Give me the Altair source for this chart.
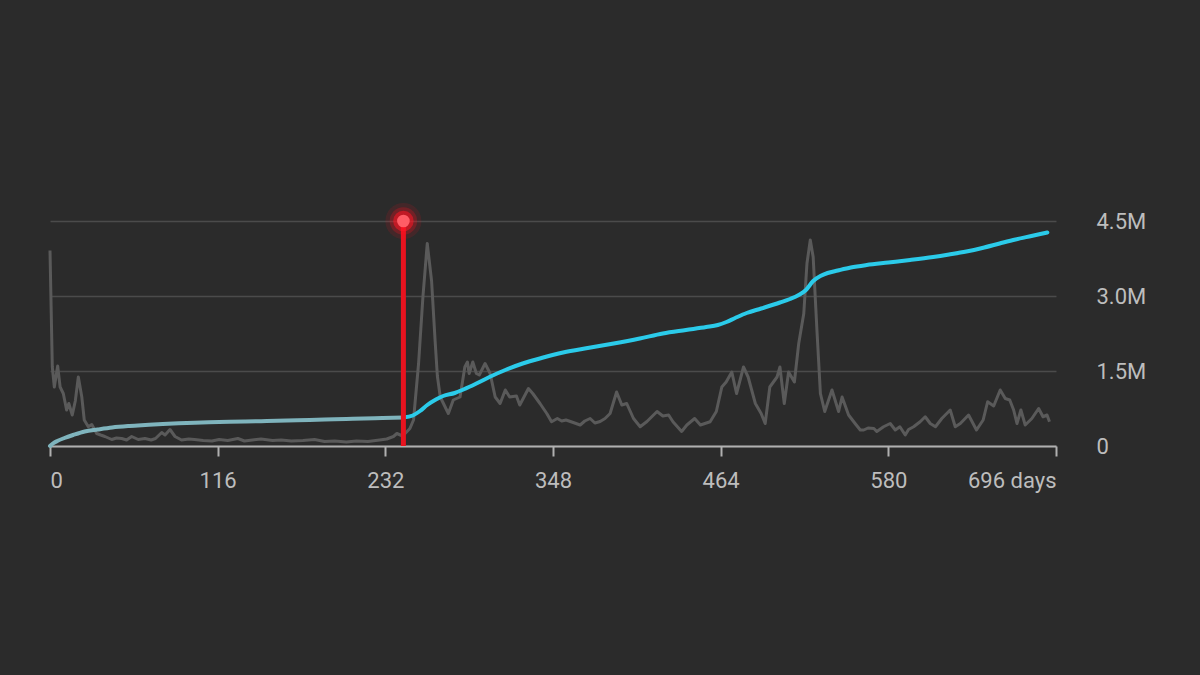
import altair as alt
import pandas as pd

# Cumulative total (millions) by day
cum_days = [0, 2, 5, 10, 16, 24, 33, 43, 55, 66, 78, 89, 105, 124, 135, 150, 171, 190, 205, 217, 230, 244.5,
            251, 256, 261, 267, 272, 280, 286, 295, 304, 315, 327, 340, 355, 372, 390, 408, 424, 440, 454, 462,
            468, 474, 482, 492, 505, 512, 518, 523, 528, 533, 538, 545, 554, 565, 580, 595, 611, 622, 634, 645,
            657, 668, 679, 690]
cum_values = [0, 0.05, 0.10, 0.16, 0.22, 0.29, 0.33, 0.37, 0.40, 0.42, 0.44, 0.455, 0.47, 0.485, 0.49, 0.50, 0.515,
              0.53, 0.54, 0.55, 0.56, 0.57,
              0.61, 0.70, 0.82, 0.93, 1.00, 1.06, 1.13, 1.25, 1.38, 1.52, 1.65, 1.76, 1.87, 1.96, 2.05, 2.15,
              2.25, 2.32, 2.38, 2.42, 2.48, 2.56, 2.66, 2.75, 2.87, 2.94, 3.02, 3.12, 3.30, 3.40, 3.46, 3.51,
              3.57, 3.62, 3.67, 3.72, 3.78, 3.83, 3.89, 3.96, 4.05, 4.13, 4.20, 4.27]
event_day = 244.5

# Daily activity (drawn on the same axis units, millions)
daily_days = [0, 1.6, 3, 5.3, 7, 9.2, 11.5, 13, 15.4, 17.5, 19.6, 22, 23.7, 26.5, 28.9, 32.3, 35, 38, 42.7, 46,
              49.6, 53, 56.5, 61, 65.7, 70, 73, 77.3, 79.6, 83, 86.5, 91, 96, 100, 106, 112, 117, 123, 130, 134.5,
              140, 146, 154, 160, 167, 175, 183, 190, 197, 205, 212, 220, 228, 233, 237.6, 240, 244, 249, 251.5,
              255, 258, 261, 264, 266.4, 268, 270, 275.6, 279, 283.7, 287, 288.8, 290, 292.5, 295, 297, 301,
              304.5, 308, 311.4, 315, 318, 322.7, 325, 331, 334, 339, 343.7, 347, 351, 354, 357, 362, 366.8,
              370, 373.7, 377, 380.6, 384, 387.5, 392, 395.6, 399, 403.7, 408.3, 413, 420, 424, 428, 431, 437,
              440.6, 446, 450, 456.7, 461, 464.8, 467.8, 471.7, 475, 479.8, 483, 488, 492, 494.8, 498, 503, 505,
              508, 511, 515, 518, 521.5, 523.7, 526, 528, 530.6, 533, 536, 541, 545.6, 548, 552.5, 557, 560.6,
              563, 566, 570, 572, 576.7, 581.3, 584.8, 588, 591.7, 594, 597.5, 602, 605.5, 609, 612.6, 617, 622.8,
              626.3, 629.8, 635.5, 641, 645.6, 648.7, 652.9, 657.4, 660.9, 664, 666.7, 669, 671.7, 674.7, 679.3,
              684, 687, 689.8, 691.5]
daily_values = [3.91, 1.58, 1.18, 1.60, 1.18, 1.05, 0.72, 0.85, 0.62, 0.90, 1.38, 0.98, 0.52, 0.385, 0.43, 0.25,
                0.22, 0.19, 0.13, 0.16, 0.15, 0.12, 0.19, 0.13, 0.15, 0.12, 0.15, 0.27, 0.22, 0.33, 0.19, 0.12,
                0.14, 0.13, 0.11, 0.10, 0.13, 0.11, 0.15, 0.10, 0.12, 0.14, 0.11, 0.12, 0.10, 0.11, 0.13, 0.09,
                0.10, 0.08, 0.10, 0.09, 0.12, 0.14, 0.19, 0.25, 0.20, 0.35, 0.52, 1.65, 2.98, 4.05, 3.30, 2.12,
                1.40, 0.98, 0.65, 0.92, 0.98, 1.58, 1.68, 1.45, 1.68, 1.45, 1.42, 1.65, 1.45, 0.98, 0.85, 1.12,
                0.98, 1.00, 0.82, 1.15, 1.05, 0.85, 0.65, 0.485, 0.55, 0.50, 0.52, 0.47, 0.42, 0.50, 0.55, 0.46,
                0.49, 0.55, 0.65, 1.08, 0.82, 0.85, 0.55, 0.385, 0.49, 0.69, 0.60, 0.62, 0.485, 0.29, 0.42, 0.55,
                0.42, 0.485, 0.69, 1.18, 1.28, 1.48, 1.05, 1.58, 1.38, 0.85, 0.65, 0.45, 1.18, 1.38, 1.58, 0.85,
                1.48, 1.28, 2.05, 2.65, 3.65, 4.12, 3.78, 2.32, 1.05, 0.69, 1.12, 0.69, 0.98, 0.62, 0.45, 0.32,
                0.32, 0.36, 0.35, 0.29, 0.385, 0.45, 0.32, 0.385, 0.22, 0.33, 0.385, 0.485, 0.585, 0.45, 0.385,
                0.55, 0.72, 0.385, 0.45, 0.62, 0.32, 0.52, 0.885, 0.80, 1.12, 0.95, 0.92, 0.72, 0.45, 0.72, 0.42,
                0.55, 0.75, 0.585, 0.62, 0.485]

x_ticks = [0, 116, 232, 348, 464, 580, 696]
y_ticks = [0, 1.5, 3.0, 4.5]

BG = "#2b2b2b"

cum_phase = ["before" if d <= event_day else "after" for d in cum_days]
cum_df = pd.DataFrame({"day": cum_days, "value": cum_values, "phase": cum_phase})
# share the joining point so both segments connect
join = pd.DataFrame({"day": [event_day], "value": [cum_values[cum_days.index(event_day)]], "phase": ["after"]})
cum_df = pd.concat([cum_df, join], ignore_index=True)
daily_df = pd.DataFrame({"day": daily_days, "value": daily_values})
event_df = pd.DataFrame({"day": [event_day], "value": [4.5], "base": [0.0]})

x_scale = alt.Scale(domain=[0, 696], nice=False, zero=False)
y_scale = alt.Scale(domain=[0, 4.5], nice=False)

x_enc = alt.X("day:Q", scale=x_scale, axis=alt.Axis(
    values=x_ticks, title=None, grid=False, labelFlush=True,
    labelExpr="datum.value == 696 ? '696 days' : datum.label",
    domainColor="#b0b0b0", domainWidth=2, tickColor="#b0b0b0", tickWidth=2, tickSize=10,
    labelPadding=14, labelColor="#bdbdbd", labelFontSize=22, labelFont="Roboto"))
y_enc = alt.Y("value:Q", scale=y_scale, axis=alt.Axis(
    orient="right", values=y_ticks, title=None, domain=False, ticks=False,
    labelExpr="datum.value == 0 ? '0' : format(datum.value, '.1f') + 'M'",
    labelPadding=40, labelColor="#bdbdbd", labelFontSize=22, labelFont="Roboto",
    labelAlign="left", labelBaseline="middle",
    grid=True, gridColor="#4b4b4b", gridWidth=1.5))

daily = alt.Chart(daily_df).mark_line(color="#5a5a5a", strokeWidth=3, strokeJoin="round").encode(
    x=x_enc, y=y_enc)

cum = alt.Chart(cum_df).mark_line(strokeWidth=4, interpolate="monotone", strokeCap="round").encode(
    x="day:Q", y="value:Q",
    color=alt.Color("phase:N", scale=alt.Scale(domain=["before", "after"], range=["#7fb4bd", "#2bcbea"]),
                    legend=None),
    detail="phase:N")

rule = alt.Chart(event_df).mark_rule(color="#e8131f", strokeWidth=5).encode(
    x="day:Q", y="base:Q", y2="value:Q")

glow_outer = alt.Chart(event_df).mark_circle(color="#ff1020", opacity=0.12, size=1300).encode(x="day:Q", y="value:Q")
glow_mid = alt.Chart(event_df).mark_circle(color="#ff1020", opacity=0.25, size=750).encode(x="day:Q", y="value:Q")
glow_in = alt.Chart(event_df).mark_circle(color="#ff1525", opacity=0.55, size=420).encode(x="day:Q", y="value:Q")
dot = alt.Chart(event_df).mark_circle(color="#ff5d66", opacity=1, size=160).encode(x="day:Q", y="value:Q")

chart = alt.layer(daily, cum, rule, glow_outer, glow_mid, glow_in, dot).properties(
    width=1006, height=225,
    autosize=alt.AutoSizeParams(type="none"),
    padding={"left": 50, "top": 221, "right": 144, "bottom": 229},
    background=BG,
).configure_view(stroke=None)

chart.save("out.html", embed_options={"renderer": "svg", "actions": False})
